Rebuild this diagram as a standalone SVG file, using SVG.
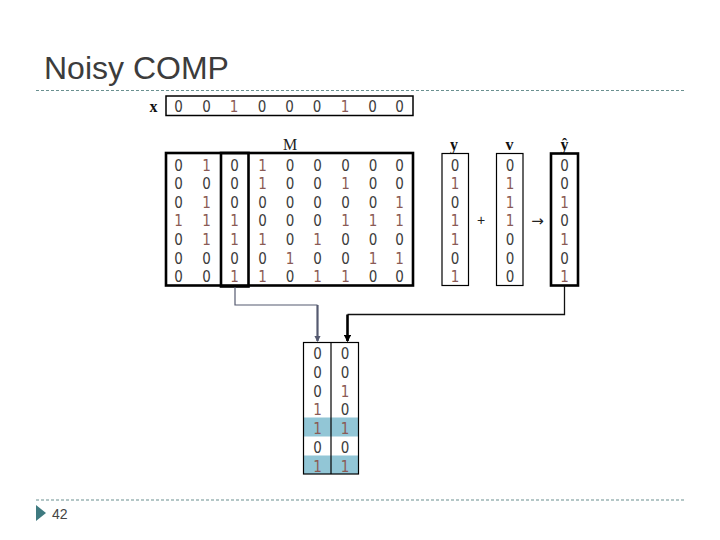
<svg xmlns="http://www.w3.org/2000/svg" width="720" height="540" viewBox="0 0 720 540">
<style>
.t{font-family:"Liberation Sans Narrow","DejaVu Sans Condensed","Liberation Sans",sans-serif;font-size:15px;font-stretch:condensed;text-anchor:middle}
.z{fill:#3c3c3c}.o{fill:#8a5a55}
.lbl{font-family:"Liberation Serif","DejaVu Serif",serif;font-size:16px;font-weight:bold;text-anchor:middle;fill:#111}
.thick{fill:none;stroke:#000;stroke-width:2.6}
.thin{fill:none;stroke:#000;stroke-width:1.2}
.dash{stroke:#6a9090;stroke-width:1.2;stroke-dasharray:3 2}
</style>
<defs>
<marker id="ah" viewBox="0 0 6 6" refX="5" refY="3" markerWidth="3" markerHeight="3" orient="auto"><path d="M0,0 L6,3 L0,6 z" fill="context-stroke"/></marker>
</defs>
<rect width="720" height="540" fill="#fff"/>
<text x="44" y="79" font-family="Liberation Sans, Arial, sans-serif" font-size="32" fill="#3c3c3c">Noisy COMP</text>
<line class="dash" x1="36" y1="90.5" x2="686" y2="90.5"/>
<line class="dash" x1="36" y1="500" x2="686" y2="500"/>
<path d="M36,505 L46,513 L36,521 z" fill="#3f7a80"/>
<text x="52" y="518.5" font-family="Liberation Sans, Arial, sans-serif" font-size="14" fill="#444">42</text>

<g id="xvec">
<text class="lbl" x="153.5" y="112" font-size="15">x</text>
<rect x="166" y="96" width="247" height="19.5" fill="none" stroke="#000" stroke-width="1.5"/>
<g class="t">
<text class="z" x="178.5" y="111.5">0</text><text class="z" x="206.5" y="111.5">0</text><text class="o" x="234" y="111.5">1</text><text class="z" x="262" y="111.5">0</text><text class="z" x="289.5" y="111.5">0</text><text class="z" x="317" y="111.5">0</text><text class="o" x="345" y="111.5">1</text><text class="z" x="372.5" y="111.5">0</text><text class="z" x="399.5" y="111.5">0</text>
</g>
</g>

<g id="matrixM">
<text x="290" y="150" font-family="Liberation Serif, serif" font-size="16" text-anchor="middle" fill="#222">M</text>
<rect class="thick" x="166" y="153" width="247" height="132.5"/>
<g class="t">
<text class="z" x="178.5" y="170.5">0</text><text class="o" x="206.5" y="170.5">1</text><text class="z" x="234.5" y="170.5">0</text><text class="o" x="262.5" y="170.5">1</text><text class="z" x="290" y="170.5">0</text><text class="z" x="317.5" y="170.5">0</text><text class="z" x="345.5" y="170.5">0</text><text class="z" x="373" y="170.5">0</text><text class="z" x="399.5" y="170.5">0</text>
<text class="z" x="178.5" y="189">0</text><text class="z" x="206.5" y="189">0</text><text class="z" x="234.5" y="189">0</text><text class="o" x="262.5" y="189">1</text><text class="z" x="290" y="189">0</text><text class="z" x="317.5" y="189">0</text><text class="o" x="345.5" y="189">1</text><text class="z" x="373" y="189">0</text><text class="z" x="399.5" y="189">0</text>
<text class="z" x="178.5" y="207.7">0</text><text class="o" x="206.5" y="207.7">1</text><text class="z" x="234.5" y="207.7">0</text><text class="z" x="262.5" y="207.7">0</text><text class="z" x="290" y="207.7">0</text><text class="z" x="317.5" y="207.7">0</text><text class="z" x="345.5" y="207.7">0</text><text class="z" x="373" y="207.7">0</text><text class="o" x="399.5" y="207.7">1</text>
<text class="o" x="178.5" y="226.3">1</text><text class="o" x="206.5" y="226.3">1</text><text class="o" x="234.5" y="226.3">1</text><text class="z" x="262.5" y="226.3">0</text><text class="z" x="290" y="226.3">0</text><text class="z" x="317.5" y="226.3">0</text><text class="o" x="345.5" y="226.3">1</text><text class="o" x="373" y="226.3">1</text><text class="o" x="399.5" y="226.3">1</text>
<text class="z" x="178.5" y="244.9">0</text><text class="o" x="206.5" y="244.9">1</text><text class="o" x="234.5" y="244.9">1</text><text class="o" x="262.5" y="244.9">1</text><text class="z" x="290" y="244.9">0</text><text class="o" x="317.5" y="244.9">1</text><text class="z" x="345.5" y="244.9">0</text><text class="z" x="373" y="244.9">0</text><text class="z" x="399.5" y="244.9">0</text>
<text class="z" x="178.5" y="263.5">0</text><text class="z" x="206.5" y="263.5">0</text><text class="z" x="234.5" y="263.5">0</text><text class="z" x="262.5" y="263.5">0</text><text class="o" x="290" y="263.5">1</text><text class="z" x="317.5" y="263.5">0</text><text class="z" x="345.5" y="263.5">0</text><text class="o" x="373" y="263.5">1</text><text class="o" x="399.5" y="263.5">1</text>
<text class="z" x="178.5" y="282.1">0</text><text class="z" x="206.5" y="282.1">0</text><text class="o" x="234.5" y="282.1">1</text><text class="o" x="262.5" y="282.1">1</text><text class="z" x="290" y="282.1">0</text><text class="o" x="317.5" y="282.1">1</text><text class="o" x="345.5" y="282.1">1</text><text class="z" x="373" y="282.1">0</text><text class="z" x="399.5" y="282.1">0</text>
</g>
</g>

<g id="column3">
<rect class="thick" x="221" y="153" width="27.5" height="133.5"/>
</g>

<g id="yvec">
<text class="lbl" x="454" y="150">y</text>
<rect class="thin" x="442" y="153.5" width="26.5" height="132"/>
<g class="t">
<text class="z" x="455" y="170.5">0</text><text class="o" x="455" y="189">1</text><text class="z" x="455" y="207.7">0</text><text class="o" x="455" y="226.3">1</text><text class="o" x="455" y="244.9">1</text><text class="z" x="455" y="263.5">0</text><text class="o" x="455" y="282.1">1</text>
</g>
</g>

<text x="481" y="225" font-family="Liberation Sans, sans-serif" font-size="14" text-anchor="middle" fill="#222">+</text>

<g id="vvec">
<text class="lbl" x="509.5" y="150">v</text>
<rect class="thin" x="496.5" y="153.5" width="26.5" height="132"/>
<g class="t">
<text class="z" x="510" y="170.5">0</text><text class="o" x="510" y="189">1</text><text class="o" x="510" y="207.7">1</text><text class="o" x="510" y="226.3">1</text><text class="z" x="510" y="244.9">0</text><text class="z" x="510" y="263.5">0</text><text class="z" x="510" y="282.1">0</text>
</g>
</g>

<text x="537.5" y="225.5" font-family="DejaVu Sans, sans-serif" font-size="15" text-anchor="middle" fill="#222">→</text>

<g id="yhat">
<text class="lbl" x="564.5" y="150">ŷ</text>
<rect class="thick" x="551" y="153.5" width="27" height="132"/>
<g class="t">
<text class="z" x="564.5" y="170.5">0</text><text class="z" x="564.5" y="189">0</text><text class="o" x="564.5" y="207.7">1</text><text class="z" x="564.5" y="226.3">0</text><text class="o" x="564.5" y="244.9">1</text><text class="z" x="564.5" y="263.5">0</text><text class="o" x="564.5" y="282.1">1</text>
</g>
</g>

<g id="compare">
<rect x="303.5" y="417.5" width="55" height="19" fill="#92c6d6"/>
<rect x="303.5" y="455.5" width="55" height="18.5" fill="#92c6d6"/>
<rect class="thin" x="303.5" y="342.5" width="55" height="131.5"/>
<line x1="331" y1="342.5" x2="331" y2="474" stroke="#000" stroke-width="1.2"/>
<g class="t">
<text class="z" x="317.5" y="359">0</text><text class="z" x="317.5" y="378">0</text><text class="z" x="317.5" y="396.5">0</text><text class="o" x="317.5" y="415">1</text><text class="o" x="317.5" y="434">1</text><text class="z" x="317.5" y="453">0</text><text class="o" x="317.5" y="471.5">1</text>
<text class="z" x="345" y="359">0</text><text class="z" x="345" y="378">0</text><text class="o" x="345" y="396.5">1</text><text class="z" x="345" y="415">0</text><text class="o" x="345" y="434">1</text><text class="z" x="345" y="453">0</text><text class="o" x="345" y="471.5">1</text>
</g>
</g>

<g id="connectors">
<path d="M235,287 V305 H317.5" fill="none" stroke="#555a70" stroke-width="1.2"/>
<path d="M317.5,305 V341" fill="none" stroke="#555a70" stroke-width="2.2" marker-end="url(#ah)"/>
<path d="M564.5,286 V314.5 H347.5" fill="none" stroke="#111" stroke-width="1.3"/>
<path d="M347.5,314.5 V341" fill="none" stroke="#000" stroke-width="2.6" marker-end="url(#ah)"/>
</g>
</svg>
